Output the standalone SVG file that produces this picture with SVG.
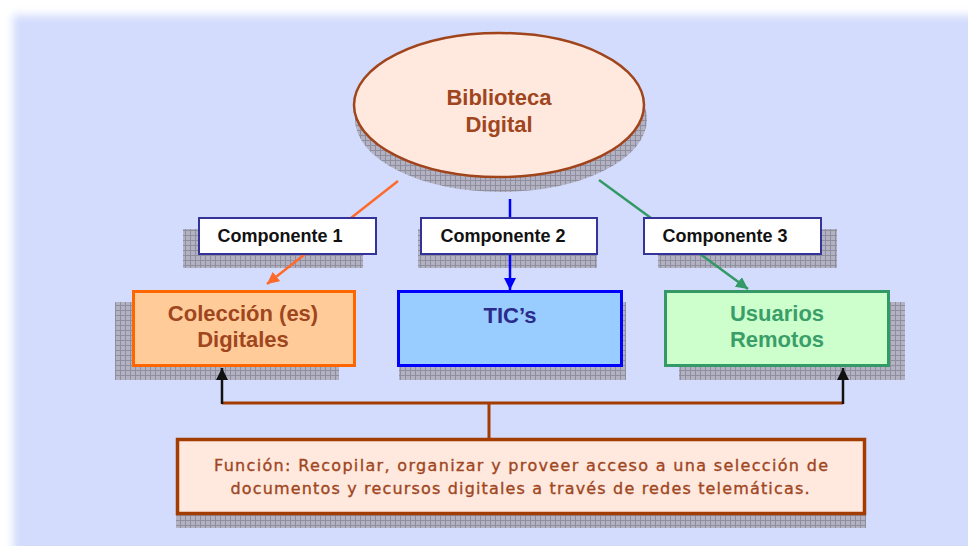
<svg xmlns="http://www.w3.org/2000/svg" width="968" height="546" viewBox="0 0 968 546">
<defs>
<filter id="soft" x="-5%" y="-5%" width="110%" height="110%"><feGaussianBlur stdDeviation="4"/></filter>
<pattern id="grid" width="5" height="5" patternUnits="userSpaceOnUse"><rect width="5" height="5" fill="#B2B2C2"/><path d="M0 0.5H5M0.5 0V5" stroke="#8E8E9E" stroke-width="1"/></pattern>
<marker id="aOr" markerUnits="userSpaceOnUse" markerWidth="14" markerHeight="14" refX="12" refY="6" orient="auto"><path d="M0,0 L12,6 L0,12 z" fill="#FF6A2A"/></marker>
<marker id="aBl" markerUnits="userSpaceOnUse" markerWidth="14" markerHeight="14" refX="12" refY="6" orient="auto"><path d="M0,0 L12,6 L0,12 z" fill="#0000FF"/></marker>
<marker id="aGr" markerUnits="userSpaceOnUse" markerWidth="14" markerHeight="14" refX="12" refY="6" orient="auto"><path d="M0,0 L12,6 L0,12 z" fill="#339966"/></marker>
<marker id="aBk" markerUnits="userSpaceOnUse" markerWidth="14" markerHeight="14" refX="12" refY="6" orient="auto"><path d="M0,0 L12,6 L0,12 z" fill="#111111"/></marker>
</defs>
<style>
.sh{fill:url(#grid)}
.t{font-family:"Liberation Sans",Arial,sans-serif;font-weight:bold;text-anchor:middle}
.big{font-size:22px}
.comp{font-size:18px;fill:#111}
.lbl{fill:#fff;stroke:#333399;stroke-width:2}
.fn{font-family:"DejaVu Sans","Liberation Sans",sans-serif;font-size:16px;fill:#A0461E;stroke:#A0461E;stroke-width:0.35;text-anchor:middle}
</style>
<rect width="968" height="546" fill="#FFFFFF"/>
<rect x="13" y="15" width="1000" height="600" fill="#D3DCFD" filter="url(#soft)"/>
<rect x="24" y="26" width="944" height="520" fill="#D3DCFD"/>

<g id="shadows">
<ellipse class="sh" cx="501" cy="119" rx="146" ry="73"/>
<rect class="sh" x="183" y="229" width="180" height="39"/>
<rect class="sh" x="418" y="229" width="179" height="39"/>
<rect class="sh" x="658" y="229" width="179" height="39"/>
<rect class="sh" x="115" y="302" width="224" height="78"/>
<rect class="sh" x="399" y="302" width="227" height="78"/>
<rect class="sh" x="679" y="302" width="226" height="78"/>
<rect class="sh" x="176" y="450" width="690" height="78"/>
</g>

<g id="connectors" fill="none">
<line x1="398" y1="181" x2="267" y2="284" stroke="#FF6A2A" stroke-width="2.5" marker-end="url(#aOr)"/>
<line x1="510" y1="199" x2="510" y2="290" stroke="#0000FF" stroke-width="2.5" marker-end="url(#aBl)"/>
<line x1="599" y1="180" x2="748" y2="289" stroke="#339966" stroke-width="2.5" marker-end="url(#aGr)"/>
<line x1="222" y1="403" x2="843" y2="403" stroke="#A33C00" stroke-width="3"/>
<line x1="489" y1="403" x2="489" y2="438" stroke="#A33C00" stroke-width="3"/>
<line x1="222" y1="404" x2="222" y2="368" stroke="#111111" stroke-width="2.5" marker-end="url(#aBk)"/>
<line x1="843" y1="404" x2="843" y2="368" stroke="#111111" stroke-width="2.5" marker-end="url(#aBk)"/>
</g>

<g id="biblioteca">
<ellipse cx="499" cy="105" rx="145" ry="72" fill="#FFE9DF" stroke="#A0441C" stroke-width="2.5"/>
<text class="t big" x="499" y="105" fill="#A0461E">Biblioteca</text>
<text class="t big" x="499" y="132" fill="#A0461E">Digital</text>
</g>

<g id="componente1">
<rect class="lbl" x="199" y="218" width="177" height="36"/>
<text class="t comp" x="280" y="242">Componente 1</text>
</g>
<g id="componente2">
<rect class="lbl" x="421" y="218" width="176" height="36"/>
<text class="t comp" x="503" y="242">Componente 2</text>
</g>
<g id="componente3">
<rect class="lbl" x="644" y="218" width="177" height="36"/>
<text class="t comp" x="725" y="242">Componente 3</text>
</g>

<g id="colecciones">
<rect x="133.5" y="291.5" width="221" height="74" fill="#FFCC99" stroke="#FF6600" stroke-width="3"/>
<text class="t big" x="243" y="321" fill="#A0461E">Colección (es)</text>
<text class="t big" x="243" y="347" fill="#A0461E">Digitales</text>
</g>

<g id="tics">
<rect x="398.5" y="291.5" width="223" height="74" fill="#99CCFF" stroke="#0000FF" stroke-width="3"/>
<text class="t big" x="510" y="323" fill="#2B2B8C">TIC’s</text>
</g>

<g id="usuarios">
<rect x="665.5" y="291.5" width="223" height="74" fill="#CCFFCC" stroke="#339966" stroke-width="3"/>
<text class="t big" x="777" y="321" fill="#3A9E68">Usuarios</text>
<text class="t big" x="777" y="347" fill="#3A9E68">Remotos</text>
</g>

<g id="funcion">
<rect x="177.5" y="439.5" width="687" height="74" fill="#FFE9DF" stroke="#A33C00" stroke-width="3.5"/>
<text class="fn" x="521" y="471" textLength="614" lengthAdjust="spacing">Función: Recopilar, organizar y proveer acceso a una selección de</text>
<text class="fn" x="520" y="494" textLength="579" lengthAdjust="spacing">documentos y recursos digitales a través de redes telemáticas.</text>
</g>
</svg>
